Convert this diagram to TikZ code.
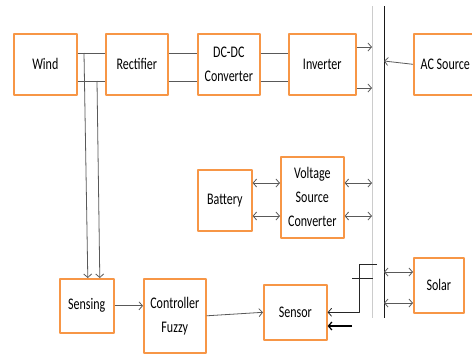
\documentclass[tikz,border=0pt]{standalone}
\usepackage{fontspec}
\setmainfont{Carlito}
\usepackage{graphicx}
\usetikzlibrary{arrows.meta}
\definecolor{boxorange}{HTML}{F79646}
\definecolor{wiregray}{HTML}{595959}
\definecolor{busgray}{HTML}{CCCCCC}
\newcommand{\tall}[1]{\scalebox{1}[1.35]{#1}}

\begin{document}
\begin{tikzpicture}[
  x=1pt,
  y=-1pt,
  line join=round,
  blk/.style 2 args={draw=boxorange,line width=1.6pt,anchor=north west,inner sep=0pt,
    minimum width=#1,minimum height=#2,align=center,font=\fontsize{12}{24}\selectfont},
  wire/.style={draw=wiregray,line width=0.8pt},
  tip/.style={wire,-{Straight Barb[length=3.5pt,width=8pt]}},
  both/.style={wire,{Straight Barb[length=3.5pt,width=8pt]}-{Straight Barb[length=3.5pt,width=8pt]}},
  busline/.style={draw=busgray,line width=0.9pt},
  busmain/.style={draw=black!90,line width=0.8pt},
  feed/.style={draw=black!85,line width=0.8pt},
  feedtip/.style={draw=black,line width=1.2pt,-{Straight Barb[length=3.5pt,width=8pt]}}
]
  \useasboundingbox (0,0) rectangle (472,354);

  % Blocks of the power chain.
  \node[blk={63pt}{61pt}] (wind) at (13,33) {\tall{Wind}};
  \node[blk={62pt}{61pt}] (rect) at (105,33) {\tall{Rectifier}};
  \node[blk={62pt}{61pt}] (dcdc) at (197,33) {\tall{DC-DC}\\\tall{Converter}};
  \node[blk={67pt}{61pt}] (inv) at (288,33) {\tall{Inverter}};
  \node[blk={63pt}{61pt}] (acs) at (413,33) {\tall{AC Source}};

  % Storage.
  \node[blk={54pt}{61pt}] (batt) at (197,169) {\tall{Battery}};
  \node[blk={63pt}{81pt}] (vsc) at (280,156) {\tall{Voltage}\\\tall{Source}\\\tall{Converter}};

  % Control loop and PV source.
  \node[blk={54pt}{54pt}] (sensing) at (59,278) {\tall{Sensing}};
  \node[blk={62pt}{74pt}] (ctrl) at (143,278) {\tall{Controller}\\\tall{Fuzzy}};
  \node[blk={63pt}{55pt}] (sensor) at (263,284) {\tall{Sensor}};
  \node[blk={50pt}{55pt}] (solar) at (413,257) {\tall{Solar}};

  % Levels used by the wires.
  \coordinate (railA) at (0,53);
  \coordinate (railB) at (0,81);
  \coordinate (invA) at (0,47);
  \coordinate (invB) at (0,88);
  \coordinate (lvA) at (0,183);
  \coordinate (lvB) at (0,216);
  \coordinate (solA) at (0,272);
  \coordinate (solB) at (0,303);

  % AC bus: light rail and main rail.
  \coordinate (gtop) at (372,6);
  \coordinate (gbot) at (372,318);
  \coordinate (ktop) at (384,6);
  \coordinate (kbot) at (384,318);
  \draw[busline] (gtop) -- (gbot);
  \draw[busmain] (ktop) -- (kbot);

  % DC links along the chain.
  \draw[wire] (wind.east |- railA) -- (rect.west |- railA);
  \draw[wire] (wind.east |- railB) -- (rect.west |- railB);
  \draw[wire] (rect.east |- railA) -- (dcdc.west |- railA);
  \draw[wire] (rect.east |- railB) -- (dcdc.west |- railB);
  \draw[wire] (dcdc.east |- railA) -- (inv.west |- railA);
  \draw[wire] (dcdc.east |- railB) -- (inv.west |- railB);
  \draw[tip] (inv.east |- invA) -- (gtop |- invA);
  \draw[tip] (inv.east |- invB) -- (gtop |- invB);

  \coordinate (acTip) at (384,61);
  \draw[tip] (acs.west) -- (acTip);

  % Taps from the wind rails down to the sensing block.
  \coordinate (tapA) at (84,53);
  \coordinate (tapB) at (97,81);
  \draw[tip] (tapA) -- ([xshift=1pt]sensing.north);
  \draw[tip] (tapB) -- ([xshift=13pt]sensing.north);

  % Battery and converter.
  \draw[both] (batt.east |- lvA) -- (vsc.west |- lvA);
  \draw[both] (batt.east |- lvB) -- (vsc.west |- lvB);
  \draw[both] (vsc.east |- lvA) -- (gtop |- lvA);
  \draw[both] (vsc.east |- lvB) -- (gtop |- lvB);

  % Solar on the main rail.
  \draw[both] (ktop |- solA) -- (solar.west |- solA);
  \draw[both] (ktop |- solB) -- (solar.west |- solB);

  % Control loop.
  \draw[tip] (sensing.east) -- (sensing.east -| ctrl.west);
  \draw[tip] (ctrl.east) -- (sensor.west);

  \coordinate (fbA) at (377,264);
  \coordinate (fbBend) at (359,264);
  \coordinate (fbC) at (352,278);
  \coordinate (fbD) at (373,278);
  \coordinate (fbE) at (352,326);
  \draw[feed,-{Straight Barb[length=3.5pt,width=8pt]}] (fbA) -- (fbBend) |- (sensor.east);
  \draw[feed] (fbC) -- (fbD);
  \draw[feedtip] (fbE) -- (sensor.east |- fbE);
\end{tikzpicture}
\end{document}
